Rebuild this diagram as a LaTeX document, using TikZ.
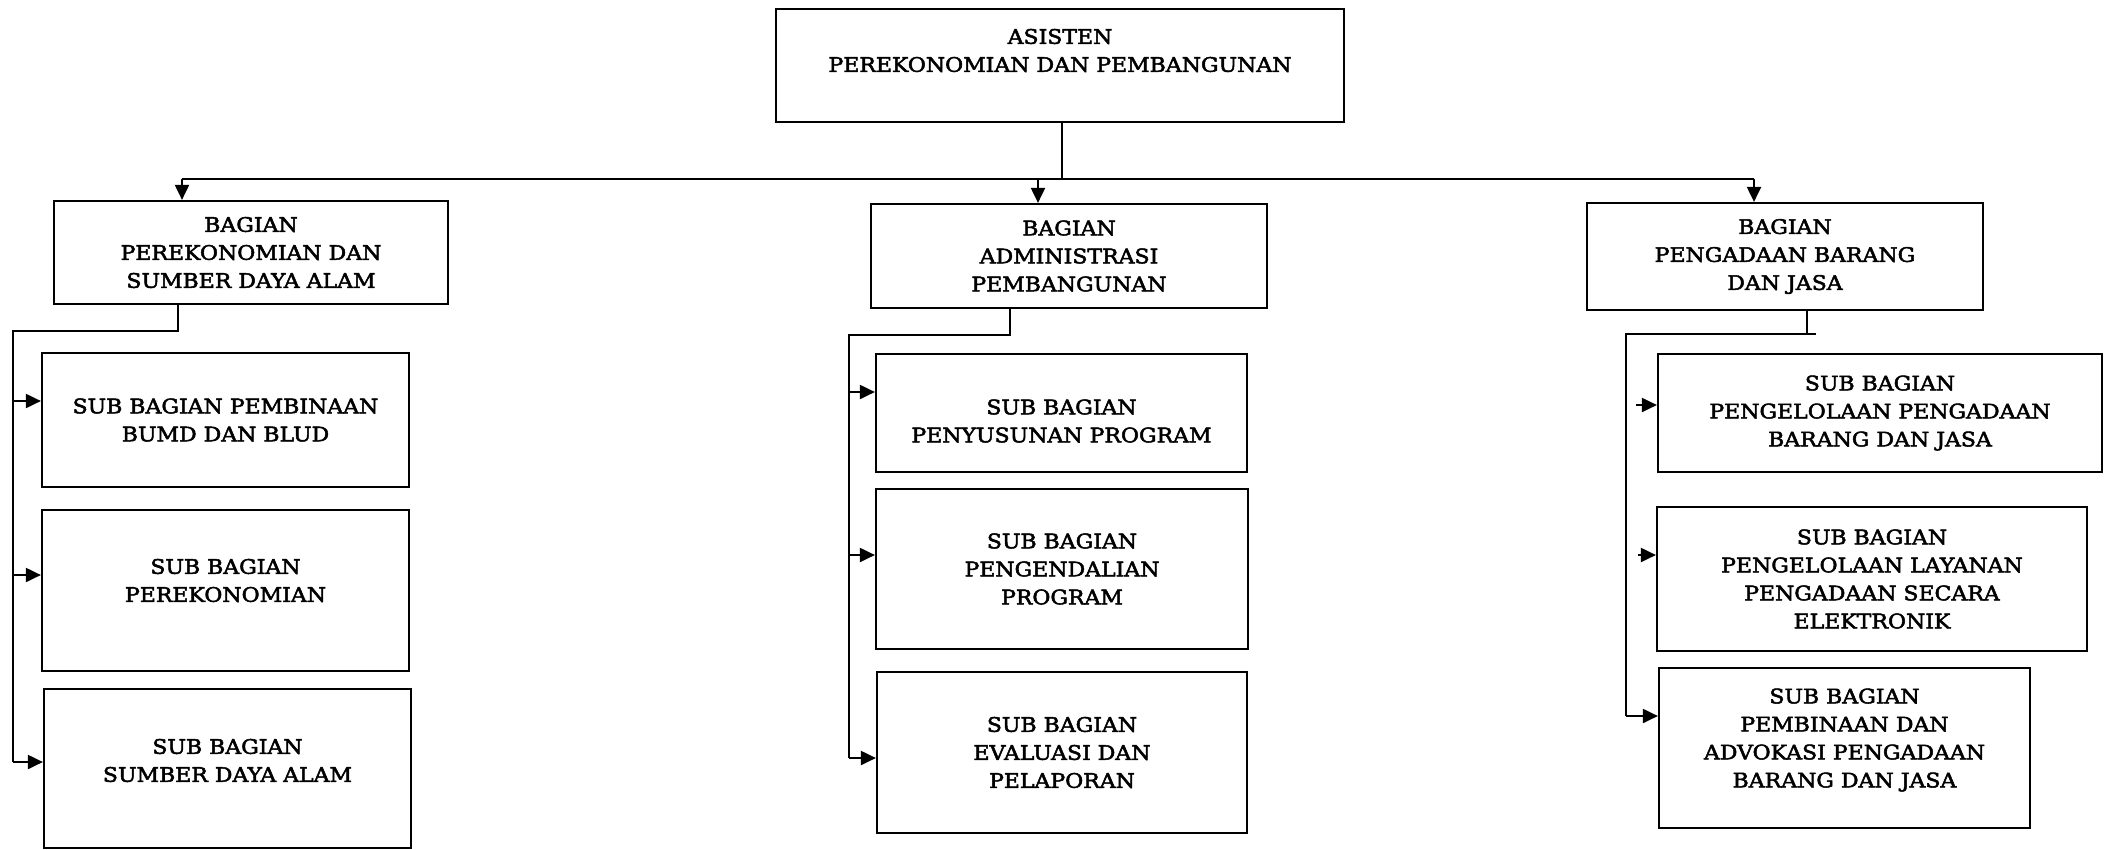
\documentclass[tikz,border=0pt]{standalone}
\usepackage{fontspec}
\setmainfont{DejaVu Serif}[FakeStretch=1.1,FakeBold=2.5]
\usetikzlibrary{arrows.meta}
\tikzset{
  boxfont/.style={font=\fontsize{20pt}{28pt}\selectfont},
  box/.style={draw, line width=2.2pt, align=center, inner sep=0pt, boxfont},
  lbl/.style={align=center, inner sep=0pt, boxfont},
  conn/.style={line width=2pt},
  arr/.style={line width=2pt, -{Triangle[length=15pt,width=14pt]}},
}
\begin{document}
\begin{tikzpicture}[x=1pt,y=-1pt]
\useasboundingbox (0,0) rectangle (2104,849);
% top
\node[box, minimum width=568, minimum height=113,
  label={[lbl,yshift=15pt]center:ASISTEN\\PEREKONOMIAN DAN PEMBANGUNAN}] (top) at (1060,65.5) {};
% level 1
\node[box, minimum width=394, minimum height=103] (b1) at (251,252.5) {BAGIAN\\PEREKONOMIAN DAN\\SUMBER DAYA ALAM};
\node[box, minimum width=396, minimum height=104] (b2) at (1069,256) {BAGIAN\\ADMINISTRASI\\PEMBANGUNAN};
\node[box, minimum width=396, minimum height=107] (b3) at (1785,256.5) {BAGIAN\\PENGADAAN BARANG\\DAN JASA};
% left children
\node[box, minimum width=367, minimum height=134] (l1) at (225.5,420) {SUB BAGIAN PEMBINAAN\\BUMD DAN BLUD};
\node[box, minimum width=367, minimum height=161,
  label={[lbl,yshift=10pt]center:SUB BAGIAN\\PEREKONOMIAN}] (l2) at (225.5,590.5) {};
\node[box, minimum width=367, minimum height=159,
  label={[lbl,yshift=8pt]center:SUB BAGIAN\\SUMBER DAYA ALAM}] (l3) at (227.5,768.5) {};
% middle children
\node[box, minimum width=371, minimum height=118,
  label={[lbl,yshift=-8pt]center:SUB BAGIAN\\PENYUSUNAN PROGRAM}] (m1) at (1061.5,413) {};
\node[box, minimum width=372, minimum height=160] (m2) at (1062,569) {SUB BAGIAN\\PENGENDALIAN\\PROGRAM};
\node[box, minimum width=370, minimum height=161] (m3) at (1062,752.5) {SUB BAGIAN\\EVALUASI DAN\\PELAPORAN};
% right children
\node[box, minimum width=444, minimum height=118] (r1) at (1880,413) {SUB BAGIAN\\PENGELOLAAN PENGADAAN\\BARANG DAN JASA};
\node[box, minimum width=430, minimum height=144] (r2) at (1872,579) {SUB BAGIAN\\PENGELOLAAN LAYANAN\\PENGADAAN SECARA\\ELEKTRONIK};
\node[box, minimum width=371, minimum height=160,
  label={[lbl,yshift=8pt]center:SUB BAGIAN\\PEMBINAAN DAN\\ADVOKASI PENGADAAN\\BARANG DAN JASA}] (r3) at (1844.5,748) {};
% bus from top
\coordinate (tb) at (1062,179);
\coordinate (bl) at (182,179);
\coordinate (br) at (1754,179);
\draw[conn] (top.south -| tb) -- (tb);
\draw[conn] (bl) -- (br);
\draw[arr] (bl) -- (bl |- b1.north);
\draw[arr] (1038,179) -- (1038,0 |- b2.north);
\draw[arr] (br) -- (br |- b3.north);
% left
\coordinate (lj) at (178,331);
\coordinate (lv) at (13,331);
\draw[conn] (b1.south -| lj) -- (lj) -- (lv) -- (13,762);
\draw[arr] (13,401) -- (l1.west |- 0,401);
\draw[arr] (13,575) -- (l2.west |- 0,575);
\draw[arr] (13,762) -- (l3.west |- 0,762);
% middle
\coordinate (mj) at (1010,335);
\coordinate (mv) at (849,335);
\draw[conn] (b2.south -| mj) -- (mj) -- (mv) -- (849,758);
\draw[arr] (849,392) -- (m1.west |- 0,392);
\draw[arr] (849,555) -- (m2.west |- 0,555);
\draw[arr] (849,758) -- (m3.west |- 0,758);
% right
\coordinate (rj) at (1807,334);
\coordinate (rv) at (1626,334);
\draw[conn] (b3.south -| rj) -- (rj);
\draw[conn] (1816,334) -- (rv) -- (1626,716);
\draw[arr] (1636,405) -- (r1.west |- 0,405);
\draw[arr] (1638,555) -- (r2.west |- 0,555);
\draw[arr] (1626,716) -- (r3.west |- 0,716);
\end{tikzpicture}
\end{document}
